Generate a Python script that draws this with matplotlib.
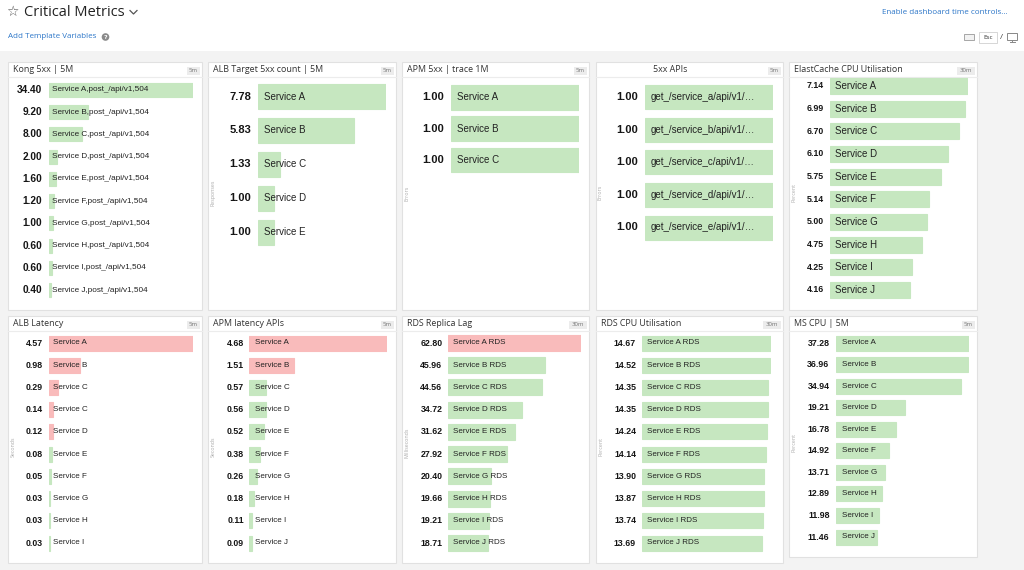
"""Toplist dashboard: 'Critical Metrics' with ten bar panels."""
import matplotlib
matplotlib.use("Agg")
import matplotlib.pyplot as plt
from matplotlib.patches import Rectangle, Circle

W, H = 1024, 570
GREEN = "#c6e7c0"
RED = "#f9bbbb"
BLUE = "#2c76c8"
TITLE_FONT = "Open Sans"
BAR_FONT = "Liberation Sans"

# ---- data ----
kong_labels = ["Service A,post_/api/v1,504", "Service B,post_/api/v1,504",
               "Service C,post_/api/v1,504", "Service D,post_/api/v1,504",
               "Service E,post_/api/v1,504", "Service F,post_/api/v1,504",
               "Service G,post_/api/v1,504", "Service H,post_/api/v1,504",
               "Service I,post_/api/v1,504", "Service J,post_/api/v1,504"]
kong_vals = [34.40, 9.20, 8.00, 2.00, 1.60, 1.20, 1.00, 0.60, 0.60, 0.40]

alb5xx_labels = ["Service A", "Service B", "Service C", "Service D", "Service E"]
alb5xx_vals = [7.78, 5.83, 1.33, 1.00, 1.00]

apm5xx_labels = ["Service A", "Service B", "Service C"]
apm5xx_vals = [1.00, 1.00, 1.00]

api5xx_labels = ["get_/service_a/api/v1/…", "get_/service_b/api/v1/…",
                 "get_/service_c/api/v1/…", "get_/service_d/api/v1/…",
                 "get_/service_e/api/v1/…"]
api5xx_vals = [1.00, 1.00, 1.00, 1.00, 1.00]

cache_labels = ["Service A", "Service B", "Service C", "Service D", "Service E",
                "Service F", "Service G", "Service H", "Service I", "Service J"]
cache_vals = [7.14, 6.99, 6.70, 6.10, 5.75, 5.14, 5.00, 4.75, 4.25, 4.16]

alblat_labels = ["Service A", "Service B", "Service C", "Service C", "Service D",
                 "Service E", "Service F", "Service G", "Service H", "Service I"]
alblat_vals = [4.57, 0.98, 0.29, 0.14, 0.12, 0.08, 0.05, 0.03, 0.03, 0.03]

apmlat_labels = ["Service A", "Service B", "Service C", "Service D", "Service E",
                 "Service F", "Service G", "Service H", "Service I", "Service J"]
apmlat_vals = [4.68, 1.51, 0.57, 0.56, 0.52, 0.38, 0.26, 0.18, 0.11, 0.09]

rdslag_labels = ["Service A RDS", "Service B RDS", "Service C RDS", "Service D RDS",
                 "Service E RDS", "Service F RDS", "Service G RDS", "Service H RDS",
                 "Service I RDS", "Service J RDS"]
rdslag_vals = [62.80, 45.96, 44.56, 34.72, 31.62, 27.92, 20.40, 19.66, 19.21, 18.71]

rdscpu_labels = rdslag_labels
rdscpu_vals = [14.67, 14.52, 14.35, 14.35, 14.24, 14.14, 13.90, 13.87, 13.74, 13.69]

mscpu_labels = cache_labels
mscpu_vals = [37.28, 36.96, 34.94, 19.21, 16.78, 14.92, 13.71, 12.89, 11.98, 11.46]

# values above these limits are shown red (conditional formatting)
alblat_red_above = 0.1
apmlat_red_above = 1.0
rdslag_red_above = 50.0

# ---- layout (pixels) ----
panels = [
    dict(box=(8, 62, 202, 310), title="Kong 5xx | 5M", tx=13, badge="5m", unit=None,
         labels=kong_labels, vals=kong_vals, red=None,
         bx=(49, 193), cy=(90, 290), bh=14, gap=7, pad=3, vs=7.3, ls=5.9),
    dict(box=(208, 62, 396, 310), title="ALB Target 5xx count | 5M", tx=213, badge="5m",
         unit=("Responses", 213, 193), labels=alb5xx_labels, vals=alb5xx_vals, red=None,
         bx=(258, 386), cy=(96.5, 232), bh=25, gap=7, pad=6, vs=8, ls=7),
    dict(box=(402, 62, 589, 310), title="APM 5xx | trace 1M", tx=407, badge="5m",
         unit=("Errors", 407, 193), labels=apm5xx_labels, vals=apm5xx_vals, red=None,
         bx=(451, 579), cy=(97, 160), bh=25, gap=7, pad=6, vs=8, ls=7),
    dict(box=(596, 62, 783, 310), title="5xx APIs", tx=653, badge="5m",
         unit=("Errors", 600, 192), labels=api5xx_labels, vals=api5xx_vals, red=None,
         bx=(645, 773), cy=(97, 227.5), bh=24, gap=7, pad=6, vs=8, ls=7),
    dict(box=(789, 62, 977, 310), title="ElastCache CPU Utilisation", tx=794, badge="30m",
         unit=("Percent", 794, 192), labels=cache_labels, vals=cache_vals, red=None,
         bx=(830, 968), cy=(86, 290), bh=16, gap=6, pad=5, vs=6.3, ls=7),
    dict(box=(8, 316, 202, 563), title="ALB Latency", tx=13, badge="5m",
         unit=("Seconds", 13, 447), labels=alblat_labels, vals=alblat_vals,
         red=alblat_red_above,
         bx=(49, 193), cy=(343, 543), bh=15, gap=6, pad=4, vs=6.3, ls=5.8),
    dict(box=(208, 316, 396, 563), title="APM latency APIs", tx=213, badge="5m",
         unit=("Seconds", 213, 447), labels=apmlat_labels, vals=apmlat_vals,
         red=apmlat_red_above,
         bx=(249, 387), cy=(343, 543), bh=15, gap=5, pad=6, vs=6.3, ls=5.8),
    dict(box=(402, 316, 589, 563), title="RDS Replica Lag", tx=407, badge="30m",
         unit=("Milliseconds", 407, 443), labels=rdslag_labels, vals=rdslag_vals,
         red=rdslag_red_above,
         bx=(448, 581), cy=(343, 543), bh=16, gap=5.5, pad=5, vs=6.3, ls=5.8),
    dict(box=(596, 316, 783, 563), title="RDS CPU Utilisation", tx=601, badge="30m",
         unit=("Percent", 601, 447), labels=rdscpu_labels, vals=rdscpu_vals, red=None,
         bx=(642, 771), cy=(343, 543), bh=15, gap=6, pad=5, vs=6.3, ls=5.8),
    dict(box=(789, 316, 977, 557), title="MS CPU | 5M", tx=794, badge="5m",
         unit=("Percent", 794, 443), labels=mscpu_labels, vals=mscpu_vals, red=None,
         bx=(836, 969), cy=(343, 537), bh=15, gap=6.5, pad=6, vs=6.3, ls=5.8),
]

fig = plt.figure(figsize=(W / 100, H / 100), dpi=100)
bg = fig.add_axes([0, 0, 1, 1])
bg.set_xlim(0, W)
bg.set_ylim(H, 0)
bg.axis("off")

# page background and header
bg.add_patch(Rectangle((0, 0), W, H, fc="white", ec="none"))
bg.add_patch(Rectangle((0, 51), W, H - 51, fc="#f3f3f3", ec="none"))
bg.text(12.5, 12, "☆", fontsize=10, color="#555", family="DejaVu Sans",
        ha="center", va="center")
bg.text(24, 12, "Critical Metrics", fontsize=10.5, family=TITLE_FONT, color="#222",
        va="center")
bg.plot([130, 133.5, 137], [10.5, 14, 10.5], color="#555", lw=0.9)
bg.text(8, 37, "Add Template Variables", fontsize=5.8, family=TITLE_FONT, color=BLUE,
        va="center")
bg.add_patch(Circle((105.5, 37), 3.8, fc="#8a8a8a", ec="none"))
bg.text(105.5, 37.3, "?", fontsize=4.5, color="white", weight="bold",
        ha="center", va="center")
bg.text(1008, 12, "Enable dashboard time controls...", fontsize=5.8, family=TITLE_FONT,
        color=BLUE, ha="right", va="center")
bg.add_patch(Rectangle((964, 34), 10, 6, fc="#f2f2f2", ec="#999", lw=0.6))
bg.add_patch(Rectangle((979, 32), 18, 11, fc="white", ec="#d0d0d0", lw=0.6))
bg.text(988, 37.5, "Esc", fontsize=4.5, family=TITLE_FONT, color="#333",
        ha="center", va="center")
bg.text(1001, 37.5, "/", fontsize=6, family=TITLE_FONT, color="#444",
        ha="center", va="center")
bg.add_patch(Rectangle((1007, 32.5), 10, 7, fc="white", ec="#888", lw=0.7))
bg.plot([1012, 1012], [39.5, 41.5], color="#888", lw=0.7)
bg.plot([1009.5, 1014.5], [41.8, 41.8], color="#888", lw=0.7)

for p in panels:
    x0, y0, x1, y1 = p["box"]
    bg.add_patch(Rectangle((x0, y0), x1 - x0, y1 - y0, fc="white", ec="#e1e1e1", lw=0.8))
    bg.plot([x0, x1], [y0 + 15, y0 + 15], color="#ececec", lw=0.8)
    bg.text(p["tx"], y0 + 8, p["title"], fontsize=6.4, family=TITLE_FONT, color="#333",
            va="center")
    bw = 13.5 if len(p["badge"]) == 2 else 18
    bg.add_patch(Rectangle((x1 - 2 - bw, y0 + 4.5), bw, 8, fc="#ececec", ec="none"))
    bg.text(x1 - 2 - bw / 2, y0 + 8.7, p["badge"], fontsize=4.3, family=TITLE_FONT,
            color="#777", ha="center", va="center")
    if p["unit"]:
        name, ux, uy = p["unit"]
        bg.text(ux, uy, name, fontsize=3.8, family=TITLE_FONT, color="#aaa",
                rotation=90, ha="center", va="center")

    vals, labels = p["vals"], p["labels"]
    n = len(vals)
    c0, c1 = p["cy"]
    step = (c1 - c0) / (n - 1)
    top, bottom = c0 - step / 2, c1 + step / 2
    bl, br = p["bx"]
    ax = fig.add_axes([bl / W, 1 - bottom / H, (br - bl) / W, (bottom - top) / H])
    ax.axis("off")
    ax.set_xlim(0, max(vals))
    ax.set_ylim(n - 0.5, -0.5)
    colors = [RED if p["red"] is not None and v > p["red"] else GREEN for v in vals]
    ax.barh(range(n), vals, height=p["bh"] / step, color=colors, edgecolor=colors,
            lw=0.8)
    for i, (v, lab) in enumerate(zip(vals, labels)):
        ax.annotate(f"{v:.2f}", xy=(0, i), xytext=(-p["gap"], 0),
                    textcoords="offset pixels", ha="right", va="center",
                    fontsize=p["vs"], weight="bold", family=BAR_FONT, color="#151515")
        ax.annotate(lab, xy=(0, i), xytext=(p["pad"], 0), textcoords="offset pixels",
                    ha="left", va="center", fontsize=p["ls"], family=BAR_FONT,
                    color="#222")

fig.savefig("out.png", dpi=100)
